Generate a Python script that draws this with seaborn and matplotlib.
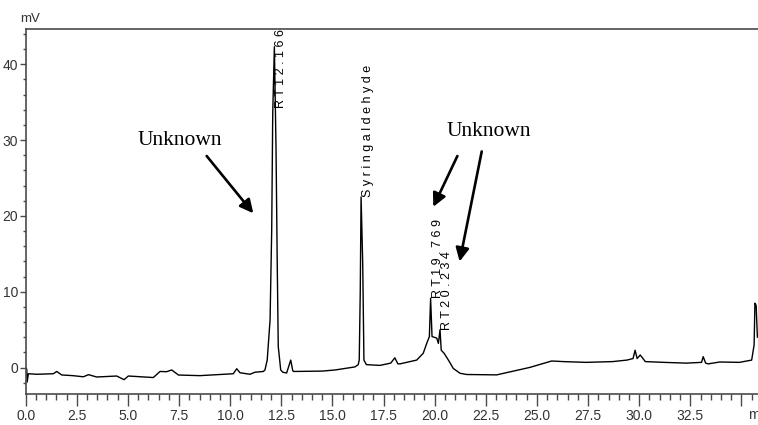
import matplotlib
matplotlib.use("Agg")
import matplotlib.pyplot as plt
import seaborn as sns
import pandas as pd
from matplotlib.ticker import MultipleLocator, FormatStrFormatter

# ---------------- data ----------------
time_min = [0.00, 0.05, 0.07, 0.13, 0.54, 1.35, 1.52, 1.76, 2.30, 2.82, 3.07, 3.47,
            4.45, 4.81, 5.02, 6.24, 6.57, 6.89, 7.14, 7.47, 8.52, 10.15, 10.32, 10.48,
            10.97, 11.21, 11.62, 11.70, 11.81, 11.95, 12.03, 12.08, 12.16, 12.24, 12.30,
            12.35, 12.47, 12.57, 12.76, 12.96, 13.06, 13.10, 14.50, 15.14, 16.10, 16.26,
            16.31, 16.36, 16.40, 16.48, 16.54, 16.66, 17.32, 17.85, 18.05, 18.20, 18.30,
            19.12, 19.44, 19.61, 19.74, 19.80, 19.87, 20.10, 20.18, 20.26, 20.32, 20.46,
            20.67, 20.91, 21.24, 21.57, 23.03, 24.66, 25.72, 26.30, 27.40, 28.70, 29.40,
            29.70, 29.80, 29.90, 30.05, 30.30, 31.20, 32.30, 33.05, 33.13, 33.25, 33.37,
            33.94, 34.90, 35.50, 35.62, 35.66, 35.72, 35.78]
signal_mv = [0.0, -0.2, -1.9, -0.8, -0.87, -0.8, -0.5, -0.96, -1.05, -1.2, -0.92, -1.23,
             -1.1, -1.58, -1.1, -1.3, -0.5, -0.53, -0.3, -0.97, -1.05, -0.8, -0.14, -0.67,
             -0.87, -0.6, -0.5, -0.3, 1.0, 6.3, 18.2, 33.5, 42.3, 29.1, 13.8,
             2.8, -0.3, -0.6, -0.7, 1.0, -0.4, -0.5, -0.45, -0.3, 0.1, 0.4,
             1.0, 10.0, 22.5, 13.8, 1.0, 0.4, 0.3, 0.6, 1.3, 0.5, 0.5,
             1.0, 1.9, 3.2, 4.1, 9.15, 4.1, 3.9, 3.2, 5.0, 2.3, 1.9,
             1.0, -0.1, -0.74, -0.9, -0.95, 0.04, 0.88, 0.8, 0.7, 0.8, 1.0,
             1.2, 2.3, 1.2, 1.67, 0.8, 0.7, 0.6, 0.7, 1.45, 0.6, 0.5,
             0.75, 0.7, 1.0, 3.0, 8.5, 8.2, 4.0]

peak_labels = ["R T 1 2 . 1 6 6", "S y r i n g a l d e h y d e",
               "R T 1 9 . 7 6 9", "R T 2 0 . 2 3 4"]
peak_rt = [12.16, 16.40, 19.80, 20.26]
peak_height = [42.3, 22.5, 9.15, 5.0]

annot_text = ["Unknown", "Unknown"]

# ---------------- figure ----------------
sns.set_style("ticks")
plt.rcParams["font.family"] = ["Liberation Sans", "DejaVu Sans"]

fig = plt.figure(figsize=(7.58, 4.25), dpi=100)
ax = fig.add_axes([25.7 / 758, 31 / 425, 1 - 25.7 / 758, (394 - 29.3) / 425])

df = pd.DataFrame({"time": time_min, "mV": signal_mv})
sns.lineplot(data=df, x="time", y="mV", ax=ax, color="black", lw=1.0,
             estimator=None, sort=False)

ax.set_xlim(0, 35.81)
ax.set_ylim(-3.47, 44.6)
ax.set_xlabel("")
ax.set_ylabel("")

spine_col = "#4a4a4a"
for s in ["left", "bottom", "top"]:
    ax.spines[s].set_visible(True)
    ax.spines[s].set_color(spine_col)
    ax.spines[s].set_linewidth(1.2)
ax.spines["right"].set_visible(False)

ax.xaxis.set_major_locator(MultipleLocator(2.5))
ax.xaxis.set_minor_locator(MultipleLocator(0.5))
ax.xaxis.set_major_formatter(FormatStrFormatter("%.1f"))
ax.yaxis.set_major_locator(MultipleLocator(10))
ax.yaxis.set_minor_locator(MultipleLocator(2))

tick_font = ["Liberation Sans Narrow", "Liberation Sans", "DejaVu Sans"]
ax.tick_params(axis="x", which="major", direction="out", length=8.5, width=1,
               color=spine_col, pad=2.5, labelsize=10)
ax.tick_params(axis="x", which="minor", direction="out", length=4.3, width=1,
               color=spine_col)
ax.tick_params(axis="y", which="major", direction="out", length=4.3, width=1,
               color=spine_col, pad=1, labelsize=10)
ax.tick_params(axis="y", which="minor", direction="out", length=2.2, width=1,
               color=spine_col)
for lab in ax.get_xticklabels() + ax.get_yticklabels():
    lab.set_family(tick_font)
    lab.set_color("#333333")
# the last major tick (35.0) carries the unit instead of a value
xt = [t for t in ax.get_xticks() if 0 <= t <= 35.81]
ax.set_xticks(xt)
ax.set_xticklabels(["%.1f" % t if t < 35 else "" for t in xt], family=tick_font,
                   color="#333333", fontsize=10)

fig.text(20 / 758, 1 - 13 / 425, "mV", ha="left", va="top", fontsize=9.5,
         family=tick_font, color="#333333")
fig.text(748 / 758, 1 - 408 / 425, "min", ha="left", va="top", fontsize=10,
         family=tick_font, color="#333333")

# peak labels (vertical, letter-spaced)
top_limit = 34.2
for lab, rt, h in zip(peak_labels, peak_rt, peak_height):
    ax.text(rt + 0.34, min(h, top_limit), lab, rotation=90, ha="center", va="bottom",
            fontsize=9, color="black", family=["Liberation Sans", "DejaVu Sans"])

# "Unknown" annotations with arrows
serif = ["Liberation Serif", "DejaVu Serif"]
ax.text(7.55, 30.0, annot_text[0], ha="center", va="center", fontsize=15.5,
        family=serif, color="black")
ax.text(22.66, 31.1, annot_text[1], ha="center", va="center", fontsize=15.5,
        family=serif, color="black")

arrow_kw = dict(arrowstyle="-|>", color="black", lw=1.9, mutation_scale=20,
                shrinkA=0, shrinkB=0)
ax.annotate("", xy=(11.13, 20.35), xytext=(8.85, 27.9), arrowprops=arrow_kw)
ax.annotate("", xy=(19.93, 21.2), xytext=(21.11, 27.9), arrowprops=arrow_kw)
ax.annotate("", xy=(21.22, 14.0), xytext=(22.30, 28.5), arrowprops=arrow_kw)

fig.savefig("out.png", dpi=100)
